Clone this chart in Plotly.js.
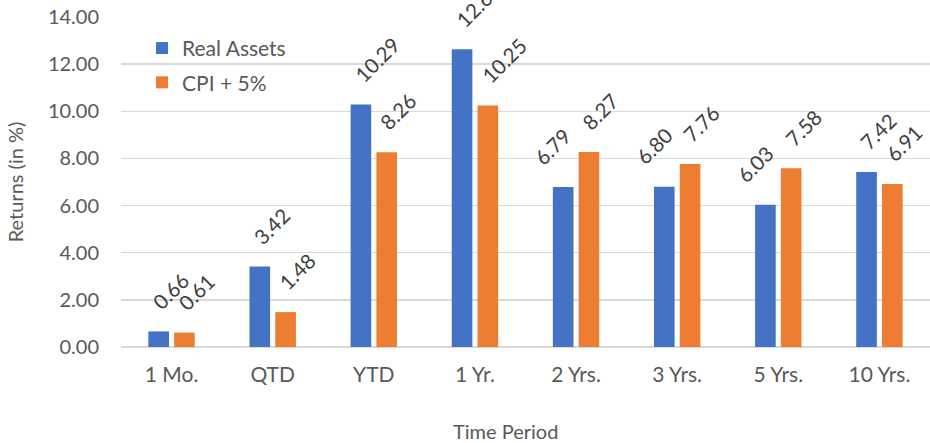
<!DOCTYPE html>
<html>
<head>
<meta charset="utf-8">
<script src="https://cdn.plot.ly/plotly-3.0.1.min.js"></script>
<style>html,body{margin:0;padding:0;background:#fff;}#chart{width:930px;height:443px;}</style>
</head>
<body>
<div id="chart"></div>
<script>
const categories = ["1 Mo.", "QTD", "YTD", "1 Yr.", "2 Yrs.", "3 Yrs.", "5 Yrs.", "10 Yrs."];
const seriesNames = ["Real Assets", "CPI + 5%"];
const realAssets = [0.66, 3.42, 10.29, 12.63, 6.79, 6.80, 6.03, 7.42];
const cpiPlus5 = [0.61, 1.48, 8.26, 10.25, 8.27, 7.76, 7.58, 6.91];
const yTickValues = [0, 2, 4, 6, 8, 10, 12, 14];

const FONT = "Lato, 'Open Sans', sans-serif";
const colors = ["#4472C4", "#ED7D31"];
const bargap = 0.49;
const slot = (1 - bargap) / 2;

const traces = [realAssets, cpiPlus5].map((vals, k) => ({
  type: "bar",
  name: seriesNames[k],
  legendgroup: "g" + k,
  x: categories,
  y: vals,
  marker: {color: colors[k]},
  hoverinfo: "x+y"
}));

const annotations = [];
const series = [realAssets, cpiPlus5];
series.forEach((vals, k) => {
  const off = (k === 0 ? -1 : 1) * slot / 2;
  vals.forEach((v, i) => {
    // like Excel: move the first label aside when the neighbouring (taller) label would overlap it
    const collide = k === 0 && series[1][i] > v;
    annotations.push({
      x: i + off, y: v, xref: "x", yref: "y",
      text: v.toFixed(2), showarrow: false, textangle: -45,
      xanchor: "left", yanchor: "bottom", xshift: collide ? -36 : -14, yshift: 15,
      font: {family: FONT, size: 20.5, color: "#404040"}
    });
  });
});

annotations.push({
  xref: "paper", yref: "paper", x: 0.475, y: -0.2545,
  xanchor: "center", yanchor: "middle", showarrow: false,
  text: "Time Period", font: {family: FONT, size: 20, color: "#595959"}
});

const layout = {
  width: 930, height: 443,
  margin: {l: 121, r: 0, t: 17, b: 96},
  paper_bgcolor: "#fff", plot_bgcolor: "#fff",
  font: {family: FONT, color: "#595959"},
  barmode: "group", bargap: bargap, bargroupgap: 0.2,
  showlegend: true,
  legend: {x: 0.026, y: 0.967, xanchor: "left", yanchor: "top",
           font: {family: FONT, size: 21, color: "#595959"},
           itemwidth: 30, tracegroupgap: 4, bgcolor: "rgba(0,0,0,0)"},
  xaxis: {type: "category", showgrid: false, zeroline: false, showline: false,
          ticks: "", ticklabelstandoff: 13,
          tickfont: {family: FONT, size: 21, color: "#595959"}},
  yaxis: {range: [0, 14], tickvals: yTickValues, tickformat: ".2f",
          showgrid: true, gridcolor: "#d9d9d9", gridwidth: 1.5,
          zeroline: true, zerolinecolor: "#d9d9d9", zerolinewidth: 1.5,
          showline: false, ticks: "", ticklabelstandoff: 21,
          tickfont: {family: FONT, size: 20, color: "#595959"},
          title: {text: "Returns (in %)", font: {family: FONT, size: 20, color: "#595959"}, standoff: 18}},
  annotations: annotations
};

Plotly.newPlot("chart", traces, layout, {displayModeBar: false, staticPlot: true});
</script>
</body>
</html>
